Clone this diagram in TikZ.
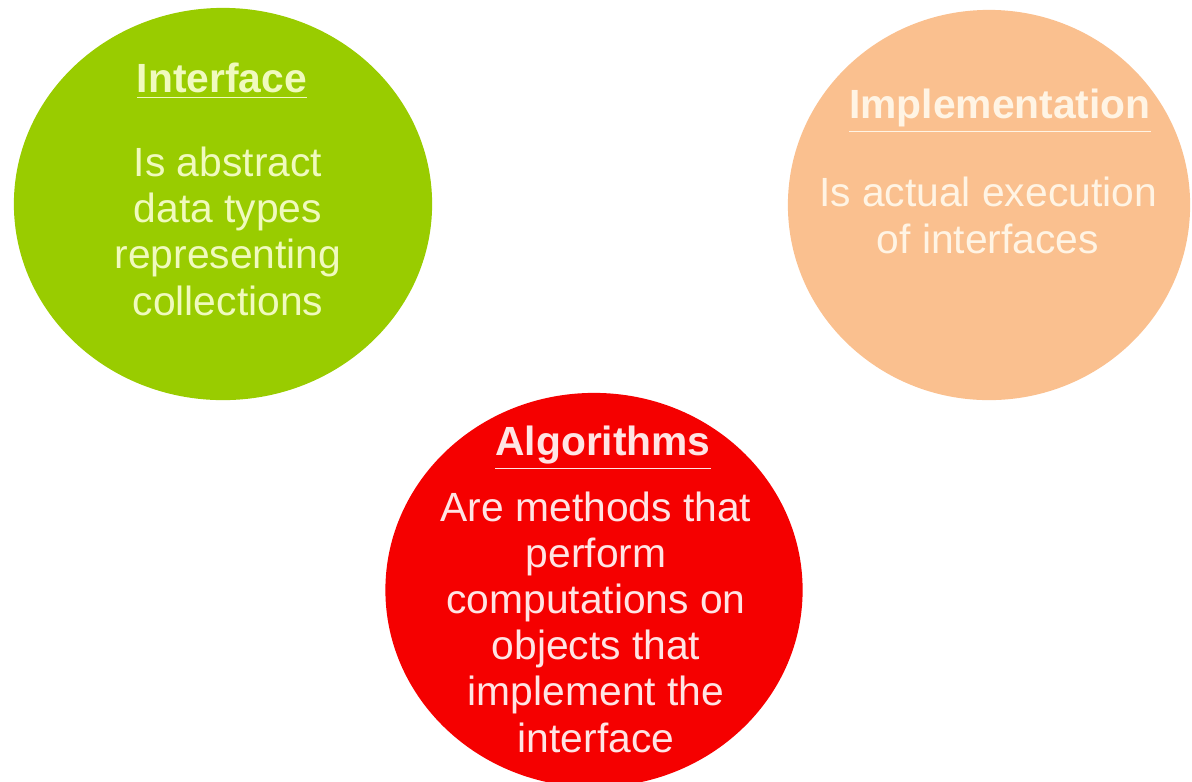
\documentclass[tikz,border=0pt]{standalone}
\usepackage{fontspec}
\setmainfont{Liberation Sans}
\usetikzlibrary{shapes.geometric}
\definecolor{interfacegreen}{RGB}{153,204,0}
\definecolor{implorange}{RGB}{250,192,143}
\definecolor{algored}{RGB}{245,0,0}
\definecolor{greentext}{RGB}{240,250,190}
\definecolor{orangetext}{RGB}{255,244,228}
\definecolor{redtext}{RGB}{255,228,228}

\begin{document}
\begin{tikzpicture}[x=0.01cm, y=-0.01cm]% three ideas
            \tikzstyle{blob} = [ellipse, inner sep=0pt]
            \tikzstyle{heading} = [anchor=base, inner sep=0pt, font=\fontsize{11.6}{13.1}\selectfont\bfseries]
            \tikzstyle{words} = [anchor=base, inner sep=0pt, align=center, font=\fontsize{11.6}{13.1}\selectfont]
            \useasboundingbox (0, 0) rectangle (1192, 781);
            \begin{scope}
                \clip (0, 0) rectangle (1192, 781);
                \node[blob, minimum width=4.18cm, minimum height=3.92cm, fill=interfacegreen] (interface) at (223, 204) {};
                \node[blob, minimum width=4.02cm, minimum height=3.9cm, fill=implorange] (implementation) at (989, 205) {};
                \node[blob, minimum width=4.17cm, minimum height=3.94cm, fill=algored] (algorithms) at (594, 590) {};
            \end{scope}
            % interface (base = last line)
            \node[heading, text=greentext] (interface title) at (222, 92) {\underline{Interface}};
            \node[words, text=greentext] (interface text) at (228, 315) {Is abstract\\data types\\representing\\collections};
            % implementation
            \node[heading, text=orangetext] (implementation title) at (1000, 118) {\underline{Implementation}};
            \node[words, text=orangetext] (implementation text) at (988, 253) {Is actual execution\\of interfaces};
            % algorithms
            \node[heading, text=redtext] (algorithms title) at (603, 455) {\underline{Algorithms}};
            \node[words, text=redtext] (algorithms text) at (596, 752) {Are methods that\\perform\\computations on\\objects that\\implement the\\interface};
        \end{tikzpicture}
\end{document}
